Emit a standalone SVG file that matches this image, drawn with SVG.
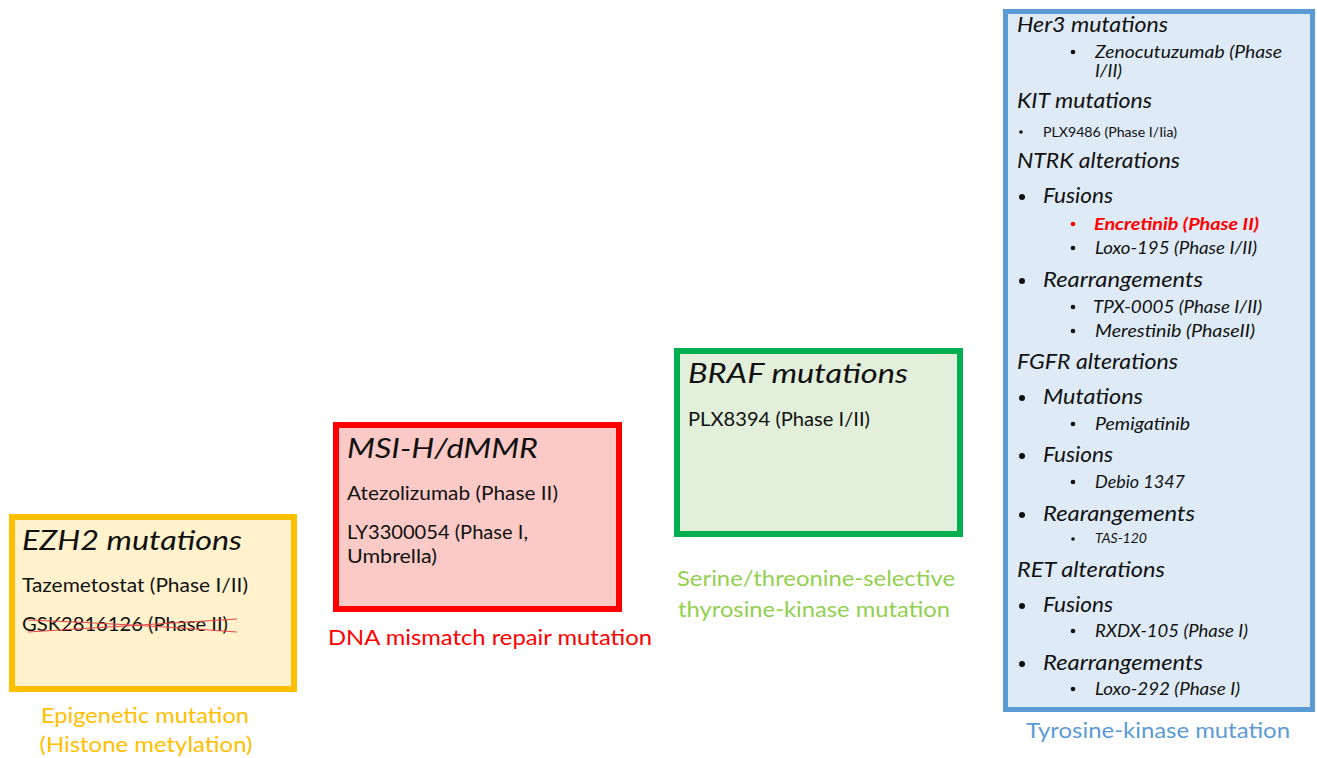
<svg xmlns="http://www.w3.org/2000/svg" width="1317" height="758" viewBox="0 0 1317 758">
<style>
text{font-family:Lato,"Liberation Sans",Arial,sans-serif;fill:#111}
.t{font-style:italic;font-size:27px}
.b{font-size:19.5px}
.lbl{font-size:21px;text-anchor:middle}
.h{font-style:italic;font-size:20.5px}
.i{font-style:italic;font-size:17px}
.s{font-size:13.5px}
.bul{fill:#111}
</style>
<rect width="1317" height="758" fill="#fff"/>
<g id="ezh2">
<rect x="12" y="517" width="282" height="172" fill="#FFF2CC" stroke="#FFC000" stroke-width="6"/>
<text class="t" x="22" y="550" textLength="220" lengthAdjust="spacingAndGlyphs">EZH2 mutations</text>
<text class="b" x="22" y="592" textLength="226" lengthAdjust="spacingAndGlyphs">Tazemetostat (Phase I/II)</text>
<text class="b" x="22" y="631" textLength="206" lengthAdjust="spacingAndGlyphs">GSK2816126 (Phase II)</text>
<path d="M28 620 Q130 624 237 632 M28 632 Q130 626 237 619" fill="none" stroke="#E84848" stroke-width="1.2"/>
<text class="lbl" x="145" y="723" style="fill:#FFC000" textLength="208" lengthAdjust="spacingAndGlyphs">Epigenetic mutation</text>
<text class="lbl" x="146" y="752" style="fill:#FFC000" textLength="213" lengthAdjust="spacingAndGlyphs">(Histone metylation)</text>
</g>
<g id="msi">
<rect x="336" y="425" width="283" height="184" fill="#FBCAC6" stroke="#FF0000" stroke-width="6"/>
<text class="t" x="347" y="458" textLength="191" lengthAdjust="spacingAndGlyphs">MSI-H/dMMR</text>
<text class="b" x="347" y="500" textLength="211" lengthAdjust="spacingAndGlyphs">Atezolizumab (Phase II)</text>
<text class="b" x="347" y="539" textLength="181" lengthAdjust="spacingAndGlyphs">LY3300054 (Phase I,</text>
<text class="b" x="347" y="563" textLength="90" lengthAdjust="spacingAndGlyphs">Umbrella)</text>
<text class="lbl" x="490" y="645" style="fill:#FF0000" textLength="324" lengthAdjust="spacingAndGlyphs">DNA mismatch repair mutation</text>
</g>
<g id="braf">
<rect x="677" y="351" width="283" height="183" fill="#E2EFDA" stroke="#00B050" stroke-width="6"/>
<text class="t" x="688" y="383" textLength="220" lengthAdjust="spacingAndGlyphs">BRAF mutations</text>
<text class="b" x="688" y="426" textLength="182" lengthAdjust="spacingAndGlyphs">PLX8394 (Phase I/II)</text>
<text class="lbl" x="816" y="586" style="fill:#92D050" textLength="278" lengthAdjust="spacingAndGlyphs">Serine/threonine-selective</text>
<text class="lbl" x="814" y="617" style="fill:#92D050" textLength="272" lengthAdjust="spacingAndGlyphs">thyrosine-kinase mutation</text>
</g>
<g id="tk">
<rect x="1005.5" y="11.5" width="307" height="698" fill="#DEEBF7" stroke="#5B9BD5" stroke-width="5"/>
<text class="h" x="1017" y="32" textLength="151" lengthAdjust="spacingAndGlyphs">Her3 mutations</text>
<circle class="bul" cx="1073" cy="52" r="2.3"/>
<text class="i" x="1095" y="58" textLength="187" lengthAdjust="spacingAndGlyphs">Zenocutuzumab (Phase</text>
<text class="i" x="1095" y="77" textLength="27" lengthAdjust="spacingAndGlyphs">I/II)</text>
<text class="h" x="1017" y="108" textLength="135" lengthAdjust="spacingAndGlyphs">KIT mutations</text>
<circle class="bul" cx="1021" cy="132" r="1.8"/>
<text class="s" x="1043" y="137" textLength="134" lengthAdjust="spacingAndGlyphs">PLX9486 (Phase I/Iia)</text>
<text class="h" x="1017" y="168" textLength="163" lengthAdjust="spacingAndGlyphs">NTRK alterations</text>
<circle class="bul" cx="1022" cy="197" r="3"/>
<text class="h" x="1043" y="203" textLength="70" lengthAdjust="spacingAndGlyphs">Fusions</text>
<circle cx="1073" cy="224" r="2.3" fill="#FF0000"/>
<text class="i" x="1094" y="230" style="fill:#FF0000;font-weight:bold" textLength="165" lengthAdjust="spacingAndGlyphs">Encretinib (Phase II)</text>
<circle class="bul" cx="1073" cy="248" r="2.3"/>
<text class="i" x="1095" y="254" textLength="162" lengthAdjust="spacingAndGlyphs">Loxo-195 (Phase I/II)</text>
<circle class="bul" cx="1022" cy="281" r="3"/>
<text class="h" x="1043" y="287" textLength="160" lengthAdjust="spacingAndGlyphs">Rearrangements</text>
<circle class="bul" cx="1073" cy="307" r="2.3"/>
<text class="i" x="1093" y="313" textLength="169" lengthAdjust="spacingAndGlyphs">TPX-0005 (Phase I/II)</text>
<circle class="bul" cx="1073" cy="331" r="2.3"/>
<text class="i" x="1095" y="337" textLength="160" lengthAdjust="spacingAndGlyphs">Merestinib (PhaseII)</text>
<text class="h" x="1017" y="369" textLength="161" lengthAdjust="spacingAndGlyphs">FGFR alterations</text>
<circle class="bul" cx="1022" cy="398" r="3"/>
<text class="h" x="1043" y="404" textLength="100" lengthAdjust="spacingAndGlyphs">Mutations</text>
<circle class="bul" cx="1073" cy="424" r="2.3"/>
<text class="i" x="1095" y="430" textLength="95" lengthAdjust="spacingAndGlyphs">Pemigatinib</text>
<circle class="bul" cx="1022" cy="456" r="3"/>
<text class="h" x="1043" y="462" textLength="70" lengthAdjust="spacingAndGlyphs">Fusions</text>
<circle class="bul" cx="1073" cy="482" r="2.3"/>
<text class="i" x="1095" y="488" textLength="90" lengthAdjust="spacingAndGlyphs">Debio 1347</text>
<circle class="bul" cx="1022" cy="515" r="3"/>
<text class="h" x="1043" y="521" textLength="152" lengthAdjust="spacingAndGlyphs">Rearangements</text>
<circle class="bul" cx="1073" cy="539" r="1.8"/>
<text class="i" x="1095" y="543" style="font-size:12.6px" textLength="52" lengthAdjust="spacingAndGlyphs">TAS-120</text>
<text class="h" x="1017" y="577" textLength="148" lengthAdjust="spacingAndGlyphs">RET alterations</text>
<circle class="bul" cx="1022" cy="606" r="3"/>
<text class="h" x="1043" y="612" textLength="70" lengthAdjust="spacingAndGlyphs">Fusions</text>
<circle class="bul" cx="1073" cy="631" r="2.3"/>
<text class="i" x="1095" y="637" textLength="153" lengthAdjust="spacingAndGlyphs">RXDX-105 (Phase I)</text>
<circle class="bul" cx="1022" cy="664" r="3"/>
<text class="h" x="1043" y="670" textLength="160" lengthAdjust="spacingAndGlyphs">Rearrangements</text>
<circle class="bul" cx="1073" cy="689" r="2.3"/>
<text class="i" x="1095" y="695" textLength="145" lengthAdjust="spacingAndGlyphs">Loxo-292 (Phase I)</text>
<text class="lbl" x="1158" y="738" style="fill:#5B9BD5" textLength="264" lengthAdjust="spacingAndGlyphs">Tyrosine-kinase mutation</text>
</g>
<g id="connectors"/>
</svg>
